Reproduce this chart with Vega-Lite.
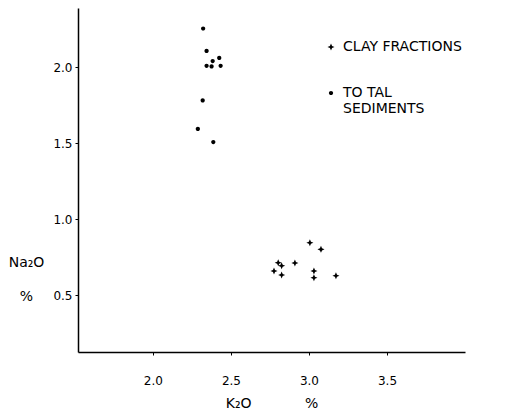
{
  "$schema": "https://vega.github.io/schema/vega-lite/v6.json",
  "width": 387,
  "height": 344,
  "autosize": "none",
  "padding": {"left": 78, "top": 8, "right": 55, "bottom": 68},
  "background": "white",
  "config": {
    "view": {"stroke": null},
    "font": "DejaVu Sans",
    "axis": {"grid": false, "domainColor": "black", "domainWidth": 1.5, "tickColor": "black", "labelColor": "black", "titleColor": "black", "labelFont": "DejaVu Sans", "titleFont": "DejaVu Sans", "labelFontSize": 12, "titleFontSize": 14, "titleFontWeight": "normal"}
  },
  "data": {
    "values": [
      {"k2o": 2.322, "na2o": 2.255, "type": "TOTAL SEDIMENTS"},
      {"k2o": 2.344, "na2o": 2.107, "type": "TOTAL SEDIMENTS"},
      {"k2o": 2.425, "na2o": 2.061, "type": "TOTAL SEDIMENTS"},
      {"k2o": 2.383, "na2o": 2.041, "type": "TOTAL SEDIMENTS"},
      {"k2o": 2.344, "na2o": 2.009, "type": "TOTAL SEDIMENTS"},
      {"k2o": 2.376, "na2o": 2.005, "type": "TOTAL SEDIMENTS"},
      {"k2o": 2.434, "na2o": 2.009, "type": "TOTAL SEDIMENTS"},
      {"k2o": 2.319, "na2o": 1.781, "type": "TOTAL SEDIMENTS"},
      {"k2o": 2.288, "na2o": 1.594, "type": "TOTAL SEDIMENTS"},
      {"k2o": 2.387, "na2o": 1.507, "type": "TOTAL SEDIMENTS"},
      {"k2o": 3.006, "na2o": 0.844, "type": "CLAY FRACTIONS"},
      {"k2o": 3.077, "na2o": 0.801, "type": "CLAY FRACTIONS"},
      {"k2o": 2.803, "na2o": 0.713, "type": "CLAY FRACTIONS"},
      {"k2o": 2.825, "na2o": 0.693, "type": "CLAY FRACTIONS"},
      {"k2o": 2.910, "na2o": 0.711, "type": "CLAY FRACTIONS"},
      {"k2o": 2.776, "na2o": 0.658, "type": "CLAY FRACTIONS"},
      {"k2o": 2.825, "na2o": 0.632, "type": "CLAY FRACTIONS"},
      {"k2o": 3.032, "na2o": 0.658, "type": "CLAY FRACTIONS"},
      {"k2o": 3.032, "na2o": 0.614, "type": "CLAY FRACTIONS"},
      {"k2o": 3.173, "na2o": 0.627, "type": "CLAY FRACTIONS"}
    ]
  },
  "mark": {"type": "point", "filled": true, "opacity": 1, "color": "black", "size": 50},
  "encoding": {
    "x": {
      "field": "k2o", "type": "quantitative",
      "scale": {"domain": [1.52, 4.0], "nice": false, "zero": false},
      "axis": {"values": [2.0, 2.5, 3.0, 3.5], "format": ".1f", "tickSize": 3, "labelPadding": 20, "title": "K₂O\u00a0\u00a0\u00a0\u00a0\u00a0\u00a0\u00a0\u00a0\u00a0\u00a0\u00a0\u00a0%", "titlePadding": 10}
    },
    "y": {
      "field": "na2o", "type": "quantitative",
      "scale": {"domain": [0.125, 2.39], "nice": false, "zero": false},
      "axis": {"values": [0.5, 1.0, 1.5, 2.0], "format": ".1f", "tickSize": 3, "labelPadding": 3, "title": ["Na₂O", "%"], "titleAngle": 0, "titleAlign": "center", "titleBaseline": "middle", "titleX": -52, "titleY": 254, "titleLineHeight": 34}
    },
    "shape": {
      "field": "type", "type": "nominal",
      "scale": {"domain": ["CLAY FRACTIONS", "TOTAL SEDIMENTS"], "range": ["M0,-1L0.3,-0.3L1,0L0.3,0.3L0,1L-0.3,0.3L-1,0L-0.3,-0.3Z", "M0.6,0A0.6,0.6 0 1,1 -0.6,0A0.6,0.6 0 1,1 0.6,0Z"]},
      "legend": {"orient": "none", "legendX": 246, "legendY": 32, "title": null, "rowPadding": 32, "labelFontSize": 14, "labelColor": "black", "labelOffset": 5, "symbolFillColor": "black", "symbolStrokeColor": "black", "symbolSize": 50, "symbolStrokeWidth": 0, "labelExpr": "datum.label == 'TOTAL SEDIMENTS' ? ['TO TAL', 'SEDIMENTS'] : datum.label", "labelLineHeight": 13}
    }
  }
}
